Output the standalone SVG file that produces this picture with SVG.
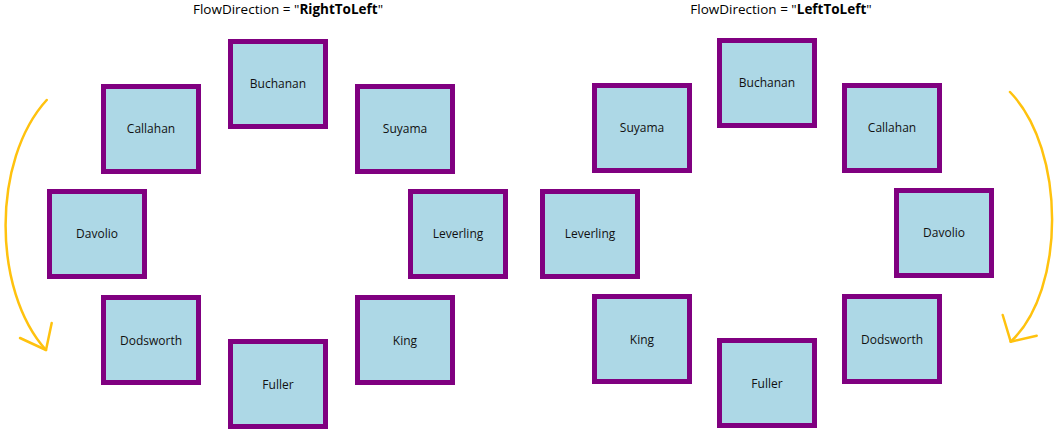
<svg xmlns="http://www.w3.org/2000/svg" width="1056" height="433" viewBox="0 0 1056 433">
<style>
.box{fill:#ADD8E6;stroke:#800080;stroke-width:5}
.lbl{font-family:"Segoe UI","Open Sans","Noto Sans",sans-serif;font-size:12px;fill:#111;text-anchor:middle}
.title{font-family:"Segoe UI","Open Sans","Noto Sans",sans-serif;font-size:13.5px;fill:#000;text-anchor:middle}
.arc{fill:none;stroke:#FFC20E;stroke-width:2.5;stroke-linecap:round;stroke-linejoin:round}
</style>
<rect width="1056" height="433" fill="#fff"/>
<text class="title" x="288" y="14">FlowDirection = "<tspan font-weight="bold">RightToLeft</tspan>"</text>
<text class="title" x="781" y="14">FlowDirection = "<tspan font-weight="bold">LeftToLeft</tspan>"</text>

<g id="L-Buchanan"><rect class="box" x="230.5" y="41.5" width="95" height="85"/><text class="lbl" x="278" y="88">Buchanan</text></g>
<g id="L-Callahan"><rect class="box" x="103.5" y="86.5" width="95" height="85"/><text class="lbl" x="151" y="133">Callahan</text></g>
<g id="L-Suyama"><rect class="box" x="357.5" y="86.5" width="95" height="85"/><text class="lbl" x="405" y="133">Suyama</text></g>
<g id="L-Davolio"><rect class="box" x="49.5" y="191.5" width="95" height="85"/><text class="lbl" x="97" y="238">Davolio</text></g>
<g id="L-Leverling"><rect class="box" x="410.5" y="191.5" width="95" height="85"/><text class="lbl" x="458" y="238">Leverling</text></g>
<g id="L-Dodsworth"><rect class="box" x="103.5" y="297.5" width="95" height="85"/><text class="lbl" x="151" y="345">Dodsworth</text></g>
<g id="L-King"><rect class="box" x="357.5" y="297.5" width="95" height="85"/><text class="lbl" x="405" y="345">King</text></g>
<g id="L-Fuller"><rect class="box" x="230.5" y="341.5" width="95" height="85"/><text class="lbl" x="278" y="389">Fuller</text></g>

<g id="R-Buchanan"><rect class="box" x="719.5" y="40.5" width="95" height="85"/><text class="lbl" x="767" y="87">Buchanan</text></g>
<g id="R-Suyama"><rect class="box" x="594.5" y="85.5" width="95" height="85"/><text class="lbl" x="642" y="132">Suyama</text></g>
<g id="R-Callahan"><rect class="box" x="844.5" y="85.5" width="95" height="85"/><text class="lbl" x="892" y="132">Callahan</text></g>
<g id="R-Leverling"><rect class="box" x="542.5" y="191.5" width="95" height="85"/><text class="lbl" x="590" y="238">Leverling</text></g>
<g id="R-Davolio"><rect class="box" x="896.5" y="190.5" width="95" height="85"/><text class="lbl" x="944" y="237">Davolio</text></g>
<g id="R-King"><rect class="box" x="594.5" y="296.5" width="95" height="85"/><text class="lbl" x="642" y="344">King</text></g>
<g id="R-Dodsworth"><rect class="box" x="844.5" y="296.5" width="95" height="85"/><text class="lbl" x="892" y="344">Dodsworth</text></g>
<g id="R-Fuller"><rect class="box" x="719.5" y="340.5" width="95" height="85"/><text class="lbl" x="767" y="388">Fuller</text></g>

<g id="connectors">
<path class="arc" d="M46.7,100 C -8,160 -8,290 46,350"/>
<path class="arc" d="M20,338 L46,350 L51.7,323"/>
<path class="arc" d="M1010,92 C 1066,150 1066,290 1010.7,341.7"/>
<path class="arc" d="M1002.7,315 L1010.7,341.7 L1036.7,335.7"/>
</g>
</svg>
